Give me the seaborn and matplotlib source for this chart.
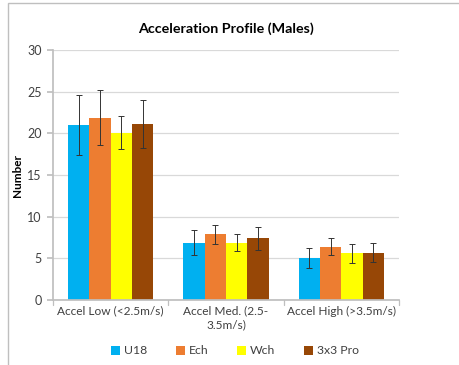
import matplotlib
matplotlib.use("Agg")
import matplotlib.pyplot as plt
import matplotlib.transforms as mtransforms
import seaborn as sns
import pandas as pd
import numpy as np
from matplotlib.patches import Rectangle

categories = ["Accel Low (<2.5m/s)", "Accel Med. (2.5-\n3.5m/s)", "Accel High (>3.5m/s)"]
groups = ["U18", "Ech", "Wch", "3x3 Pro"]
u18 = [21.0, 6.9, 5.1]
ech = [21.9, 7.9, 6.4]
wch = [20.1, 6.9, 5.6]
pro = [21.1, 7.4, 5.7]
u18_err = [3.6, 1.5, 1.2]
ech_err = [3.3, 1.15, 1.0]
wch_err = [2.0, 1.0, 1.15]
pro_err = [2.9, 1.4, 1.1]
colors = ["#00B0F0", "#ED7D31", "#FFFF00", "#974706"]

values = [u18, ech, wch, pro]
errors = [u18_err, ech_err, wch_err, pro_err]
rows = []
for g, vals, errs in zip(groups, values, errors):
    for c, v, e in zip(categories, vals, errs):
        rows.append({"Category": c, "Group": g, "Number": v, "Err": e})
df = pd.DataFrame(rows)

sns.set_theme(style="white")
plt.rcParams["font.family"] = ["Lato", "DejaVu Sans"]

fig = plt.figure(figsize=(4.59, 3.65), dpi=100)
ax = fig.add_axes([53 / 459, 65 / 365, 346 / 459, 250 / 365])

sns.barplot(data=df, x="Category", y="Number", hue="Group", order=categories,
            hue_order=groups, palette=colors, errorbar=None, width=0.74,
            saturation=1, ax=ax, legend=True, linewidth=0)

# error bars centred on each bar
for container, g in zip(ax.containers, groups):
    sub = df[df["Group"] == g].set_index("Category").loc[categories]
    xs = [p.get_x() + p.get_width() / 2 for p in container.patches]
    ax.errorbar(xs, sub["Number"].values, yerr=sub["Err"].values, fmt="none",
                ecolor="#333333", elinewidth=0.7, capsize=2.2, capthick=0.7, zorder=5)

ax.set_ylim(0, 30)
ax.set_yticks(np.arange(0, 31, 5))
ax.set_xlim(-0.5, 2.5)
ax.yaxis.grid(True, color="#D9D9D9", linewidth=0.9)
ax.set_axisbelow(True)
for s in ["top", "right"]:
    ax.spines[s].set_visible(False)
ax.spines["left"].set_color("#BFBFBF")
ax.spines["bottom"].set_color("#BFBFBF")
ax.tick_params(axis="y", left=True, length=4, color="#BFBFBF", labelsize=9,
               labelcolor="#404040", pad=4)

# category labels, every line centred under its group
ax.set_xticks([0, 1, 2])
ax.set_xticklabels([])
ax.tick_params(axis="x", bottom=False)
for i, cat in enumerate(categories):
    for k, line in enumerate(cat.split("\n")):
        tf = ax.get_xaxis_transform() + mtransforms.ScaledTranslation(
            0, -(4 + 10.2 * k) / 72, fig.dpi_scale_trans)
        ax.text(i, 0, line, transform=tf, ha="center", va="top",
                fontsize=8.6, color="#404040")

# category separators below the axis
for xb in [-0.5, 0.5, 1.5, 2.5]:
    ax.plot([xb, xb], [0, -0.6], color="#BFBFBF", lw=0.9, clip_on=False)
ax.set_xlabel("")
ax.set_ylabel("Number", fontsize=8.5, fontweight="bold", color="#000000", labelpad=3)
ax.set_title("Acceleration Profile (Males)", fontsize=10.3, fontweight="bold",
             color="#000000", pad=12)

handles, labels = ax.get_legend_handles_labels()
ax.legend_.remove()
fig.legend(handles, labels, loc="center", bbox_to_anchor=(235 / 459, 14 / 365), ncol=4,
           frameon=False, fontsize=8.8, handlelength=0.7, handleheight=0.7,
           columnspacing=2.4, handletextpad=0.3, labelcolor="#404040")

# chart area border
fig.add_artist(Rectangle((7.5 / 459, -0.1), 1.2, (362 / 365) + 0.1,
                         transform=fig.transFigure, fill=False,
                         edgecolor="#BFBFBF", linewidth=1.0))

fig.savefig("out.png", dpi=100)
